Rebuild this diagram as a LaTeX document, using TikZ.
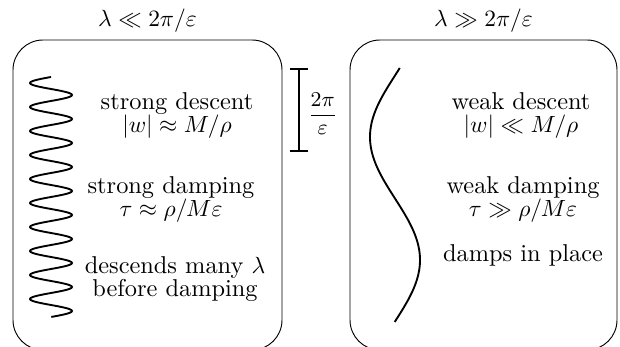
\documentclass[tikz,border=0pt]{standalone}
\usepackage{amsmath,amssymb}
\usetikzlibrary{arrows.meta,positioning}

\begin{document}
\begin{tikzpicture}[
  panel/.style={draw,rounded corners=4.5mm,minimum width=4.02cm,minimum height=4.65cm,inner sep=0pt},
  hdr/.style={inner sep=3pt},
  lbl/.style={align=center,font=\fontsize{10.4}{9.8}\selectfont},
  wave/.style={thick,line join=round},
  bar/.style={thick,{Bar[width=8pt]}-{Bar[width=8pt]}}]

 \useasboundingbox (0,0) rectangle (9.3,-5.205);

 % ---- short wavelength panel ----
 \node[panel,minimum width=4.035cm] (lbox) at (2.2125,-2.925) {};
 \node[hdr,above=0pt of lbox] (ltitle) {$\lambda\ll 2\pi/\varepsilon$};
 \draw[wave] plot[domain=0:10,samples=401] ({0.765-0.315*sin(360*\x)},{-1.155-0.36*\x});
 \node[lbl] (ldesc) at (2.655,-1.733) {strong descent\\ $|w|\approx M/\rho$};
 \node[lbl] (ldamp) at (2.565,-2.985) {strong damping\\ $\tau\approx\rho/M\varepsilon$};
 \node[lbl] (lnote) at (2.625,-4.185) {descends many $\lambda$\\ before damping};

 % ---- scale bar ----
 \coordinate (bartop) at (4.485,-1.02);
 \coordinate (barbot) at (4.485,-2.28);
 \draw[bar] (bartop) -- (barbot);
 \node[font=\small] (period) at (4.84,-1.71) {$\dfrac{2\pi}{\varepsilon}$};

 % ---- long wavelength panel ----
 \node[panel,minimum width=4.005cm] (rbox) at (7.2525,-2.925) {};
 \node[hdr,above=0pt of rbox] (rtitle) {$\lambda\gg 2\pi/\varepsilon$};
 \draw[wave] plot[domain=1.02:4.83,samples=120] ({5.925-0.375*cos(180*(\x-2.055)/1.845)},{-\x});
 \node[lbl] (rdesc) at (7.815,-1.733) {weak descent\\ $|w|\ll M/\rho$};
 \node[lbl] (rdamp) at (7.845,-2.985) {weak damping\\ $\tau\gg\rho/M\varepsilon$};
 \node[lbl] (rnote) at (7.845,-3.833) {damps in place};
\end{tikzpicture}
\end{document}
